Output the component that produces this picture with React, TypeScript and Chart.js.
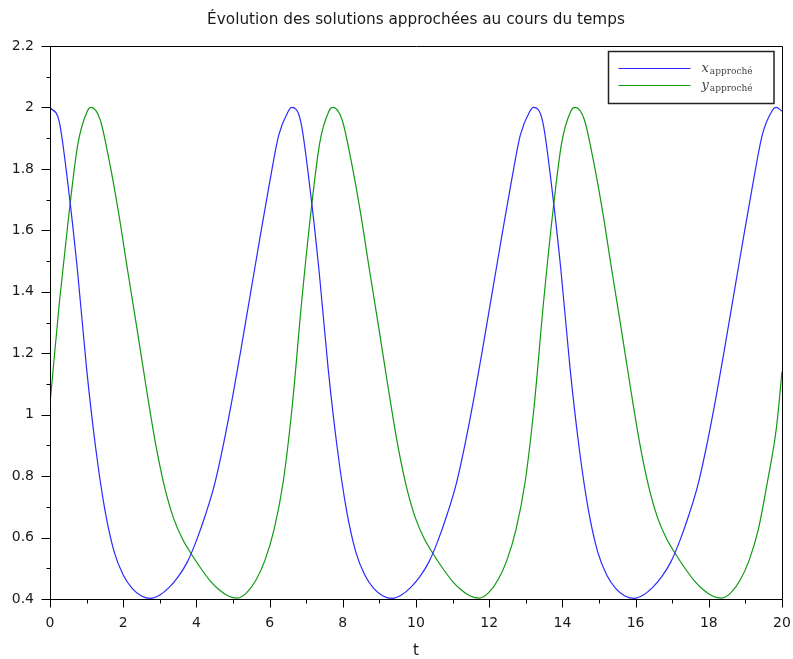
import React, { useEffect, useRef } from "react";
import { Chart, registerables } from "chart.js";

Chart.register(...registerables);

// ---- data ----
const blueT = [
  0, 0.25, 0.5, 0.75, 1, 1.25, 1.5, 1.75, 2, 2.25, 2.5, 2.75, 3, 3.25, 3.5, 3.75, 4, 4.25, 4.5, 4.75, 5, 5.25, 5.5, 5.75, 6, 6.25, 6.5,
  6.6, 6.85, 7.1, 7.35, 7.6, 7.85, 8.1, 8.35, 8.6, 8.85, 9.1, 9.35, 9.6, 9.85, 10.1, 10.35, 10.6, 10.85, 11.1, 11.35, 11.6, 11.85, 12.1, 12.35, 12.6, 12.85, 13.1,
  13.21, 13.46, 13.71, 13.96, 14.21, 14.46, 14.71, 14.96, 15.21, 15.46, 15.71, 15.96, 16.21, 16.46, 16.71, 16.96, 17.21, 17.46, 17.71, 17.96, 18.21, 18.46, 18.71, 18.96, 19.21, 19.46, 19.71,
  19.84, 20,
];
const blueX = [
  2.0, 1.955, 1.74, 1.47, 1.15, 0.89, 0.69, 0.555, 0.478, 0.434, 0.41, 0.402, 0.413, 0.437, 0.472, 0.52, 0.59, 0.675, 0.775, 0.91, 1.065, 1.235, 1.41, 1.585, 1.755, 1.91, 1.985,
  2.0, 1.955, 1.74, 1.47, 1.15, 0.89, 0.69, 0.555, 0.478, 0.434, 0.41, 0.402, 0.413, 0.437, 0.472, 0.52, 0.59, 0.675, 0.775, 0.91, 1.065, 1.235, 1.41, 1.585, 1.755, 1.91, 1.985,
  2.0, 1.955, 1.74, 1.47, 1.15, 0.89, 0.69, 0.555, 0.478, 0.434, 0.41, 0.402, 0.413, 0.437, 0.472, 0.52, 0.59, 0.675, 0.775, 0.91, 1.065, 1.235, 1.41, 1.585, 1.755, 1.91, 1.985,
  2.0, 1.988,
];
const greenT = [
  0, 0.26, 0.51, 0.76, 1.01,
  1.12, 1.37, 1.62, 1.87, 2.12, 2.37, 2.62, 2.87, 3.12, 3.37, 3.62, 3.87, 4.12, 4.37, 4.62, 4.87, 5.12, 5.37, 5.62, 5.87, 6.12, 6.37, 6.62, 6.87, 7.12, 7.37, 7.62,
  7.73, 7.98, 8.23, 8.48, 8.73, 8.98, 9.23, 9.48, 9.73, 9.98, 10.23, 10.48, 10.73, 10.98, 11.23, 11.48, 11.73, 11.98, 12.23, 12.48, 12.73, 12.98, 13.23, 13.48, 13.73, 13.98, 14.23,
  14.35, 14.6, 14.85, 15.1, 15.35, 15.6, 15.85, 16.1, 16.35, 16.6, 16.85, 17.1, 17.35, 17.6, 17.85, 18.1, 18.35, 18.6, 18.85, 19.1, 19.35, 19.6,
  19.85, 20,
];
const greenY = [
  1.035, 1.37, 1.645, 1.88, 1.985,
  2.0, 1.96, 1.825, 1.66, 1.47, 1.285, 1.095, 0.915, 0.77, 0.665, 0.595, 0.545, 0.5, 0.46, 0.43, 0.41, 0.403, 0.42, 0.46, 0.525, 0.625, 0.78, 1.03, 1.36, 1.65, 1.885, 1.988,
  2.0, 1.96, 1.825, 1.66, 1.47, 1.285, 1.095, 0.915, 0.77, 0.665, 0.595, 0.545, 0.5, 0.46, 0.43, 0.41, 0.403, 0.42, 0.46, 0.525, 0.625, 0.78, 1.03, 1.36, 1.65, 1.885, 1.988,
  2.0, 1.96, 1.825, 1.66, 1.47, 1.285, 1.095, 0.915, 0.77, 0.665, 0.595, 0.545, 0.5, 0.46, 0.43, 0.41, 0.403, 0.42, 0.46, 0.525, 0.625, 0.78,
  0.96, 1.14,
];

const xTickValues = [0, 2, 4, 6, 8, 10, 12, 14, 16, 18, 20];
const xMinorTicks = [1, 3, 5, 7, 9, 11, 13, 15, 17, 19];
const yTickValues = [0.4, 0.6, 0.8, 1, 1.2, 1.4, 1.6, 1.8, 2, 2.2];
const yMinorTicks = [0.5, 0.7, 0.9, 1.1, 1.3, 1.5, 1.7, 1.9, 2.1];

const TITLE = "Évolution des solutions approchées au cours du temps";
const X_LABEL = "t";
const SERIES_SYMBOLS = ["x", "y"];
const SERIES_SUB = "approché";
const SERIES_COLORS = ["#2a2aff", "#119a11"];

const FONT = '"DejaVu Sans", sans-serif';

export default function App() {
  const ref = useRef<HTMLCanvasElement>(null);

  useEffect(() => {
    const canvas = ref.current!;
    const decor = {
      id: "decor",
      afterDraw(chart: any) {
        const { ctx, chartArea: a, scales } = chart;
        const xs = scales.x;
        const ys = scales.y;
        ctx.save();
        ctx.strokeStyle = "#000";
        ctx.lineWidth = 1;
        const L = Math.round(a.left) + 0.5;
        const R = Math.round(a.right) + 0.5;
        const T = Math.round(a.top) + 0.5;
        const B = Math.round(a.bottom) + 0.5;
        ctx.beginPath();
        ctx.moveTo(L, T);
        ctx.lineTo(R, T);
        ctx.lineTo(R, B);
        ctx.lineTo(L, B);
        ctx.closePath();
        ctx.stroke();

        ctx.beginPath();
        for (const v of yTickValues) {
          const p = Math.round(ys.getPixelForValue(v)) + 0.5;
          ctx.moveTo(L - 9, p);
          ctx.lineTo(L, p);
        }
        for (const v of yMinorTicks) {
          const p = Math.round(ys.getPixelForValue(v)) + 0.5;
          ctx.moveTo(L - 4, p);
          ctx.lineTo(L, p);
        }
        for (const v of xTickValues) {
          const p = Math.round(xs.getPixelForValue(v)) + 0.5;
          ctx.moveTo(p, B);
          ctx.lineTo(p, B + 8);
        }
        for (const v of xMinorTicks) {
          const p = Math.round(xs.getPixelForValue(v)) + 0.5;
          ctx.moveTo(p, B);
          ctx.lineTo(p, B + 4);
        }
        ctx.stroke();

        // title (fitted to the reference width) and axis label
        ctx.fillStyle = "#1a1a1a";
        ctx.textAlign = "center";
        ctx.textBaseline = "middle";
        ctx.font = `14px ${FONT}`;
        const w14 = ctx.measureText(TITLE).width;
        const tSize = Math.min(17, 14 * 418 / w14);
        const cx = (a.left + a.right) / 2;
        ctx.font = `${tSize.toFixed(2)}px ${FONT}`;
        ctx.fillText(TITLE, cx, 20);
        ctx.font = `15px ${FONT}`;
        ctx.fillText(X_LABEL, cx, 651);

        // legend
        const lx = Math.round(a.right) - 173.5;
        const ly = Math.round(a.top) + 5.5;
        ctx.lineWidth = 1.5;
        ctx.strokeStyle = "#222";
        ctx.strokeRect(lx, ly, 165.5, 52);
        ctx.lineWidth = 1.2;
        for (let i = 0; i < 2; i++) {
          const yy = ly + 17 + i * 17;
          ctx.strokeStyle = SERIES_COLORS[i];
          ctx.beginPath();
          ctx.moveTo(lx + 10, yy);
          ctx.lineTo(lx + 82, yy);
          ctx.stroke();
          ctx.fillStyle = "#444";
          ctx.textAlign = "left";
          ctx.textBaseline = "alphabetic";
          ctx.font = `italic 13px "DejaVu Serif", serif`;
          ctx.fillText(SERIES_SYMBOLS[i], lx + 93, yy + 3);
          const w = ctx.measureText(SERIES_SYMBOLS[i]).width;
          ctx.font = `9px "DejaVu Serif", serif`;
          ctx.fillText(SERIES_SUB, lx + 93 + w + 1, yy + 5);
        }
        ctx.restore();
      },
    };

    const chart = new Chart(canvas, {
      type: "line",
      data: {
        datasets: [
          {
            label: "x approché",
            data: blueT.map((t, i) => ({ x: t, y: blueX[i] })),
            borderColor: SERIES_COLORS[0],
            borderWidth: 1.2,
            pointRadius: 0,
            fill: false,
            cubicInterpolationMode: "monotone",
          },
          {
            label: "y approché",
            data: greenT.map((t, i) => ({ x: t, y: greenY[i] })),
            borderColor: SERIES_COLORS[1],
            borderWidth: 1.2,
            pointRadius: 0,
            fill: false,
            cubicInterpolationMode: "monotone",
          },
        ],
      },
      options: {
        responsive: false,
        animation: false,
        devicePixelRatio: 1,
        layout: { padding: { left: 0, right: 11, top: 46, bottom: 0 } },
        plugins: {
          legend: { display: false },
          title: { display: false },
          tooltip: { enabled: false },
        },
        scales: {
          x: {
            type: "linear",
            min: 0,
            max: 20,
            afterFit: (s: any) => {
              s.height = 60;
              s.paddingLeft = 0;
              s.paddingRight = 0;
            },
            afterBuildTicks: (s: any) => {
              s.ticks = xTickValues.map((v) => ({ value: v }));
            },
            grid: { display: false, drawTicks: false },
            border: { display: false },
            ticks: {
              font: { family: FONT, size: 14 },
              color: "#1a1a1a",
              padding: 16,
              maxRotation: 0,
              autoSkip: false,
              callback: (v: any) => String(v),
            },
          },
          y: {
            type: "linear",
            min: 0.4,
            max: 2.2,
            afterFit: (s: any) => {
              s.width = 50;
              s.paddingTop = 0;
              s.paddingBottom = 0;
            },
            afterBuildTicks: (s: any) => {
              s.ticks = yTickValues.map((v) => ({ value: v }));
            },
            grid: { display: false, drawTicks: false },
            border: { display: false },
            ticks: {
              font: { family: FONT, size: 14 },
              color: "#1a1a1a",
              padding: 16,
              autoSkip: false,
              callback: (v: any) => String(Math.round(Number(v) * 10) / 10),
            },
          },
        },
      },
      plugins: [decor],
    } as any);
    return () => chart.destroy();
  }, []);

  return (
    <div style={{ position: "absolute", left: 0, top: 0, width: 793, height: 659, background: "#fff" }}>
      <canvas ref={ref} width={793} height={659} style={{ display: "block" }} />
    </div>
  );
}
